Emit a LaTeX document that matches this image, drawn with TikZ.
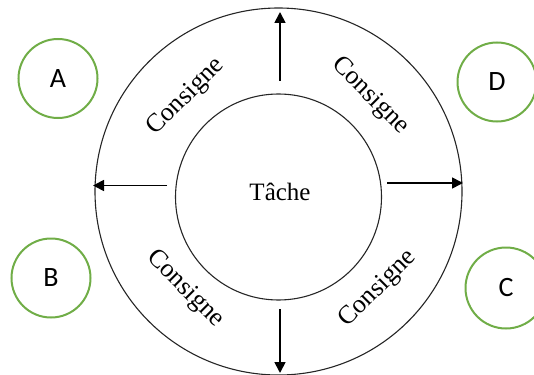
\documentclass[tikz,border=0pt]{standalone}
\usepackage{fontspec}
\setmainfont{Liberation Serif}
\newfontfamily\letterfont{Carlito}
\usetikzlibrary{arrows.meta}
\definecolor{ogreen}{RGB}{112,173,71}
\begin{document}
\begin{tikzpicture}[x=1pt,y=-1pt,
  ring/.style={circle,draw=black!85,line width=1.1pt,inner sep=0pt},
  letternode/.style={circle,draw=ogreen,line width=2pt,minimum size=79pt,inner sep=0pt,font=\letterfont\fontsize{28}{28}\selectfont},
  consigne/.style={font=\fontsize{26}{26}\selectfont,inner sep=0pt},
  arr/.style={line width=1.7pt,-{Triangle[length=11pt,width=11pt]}}]
\useasboundingbox (0,0) rectangle (534,374);
\node[ring,minimum size=367pt] (outer) at (278.5,191.5) {};
\node[ring,minimum size=206pt] (inner) at (278.5,197) {};
\node[font=\fontsize{25}{25}\selectfont] (tache) at (280,192) {Tâche};
\node[consigne,rotate=45] (c1) at (186,97) {Consigne};
\node[consigne,rotate=-45] (c2) at (370,96) {Consigne};
\node[consigne,rotate=-45] (c3) at (185,289) {Consigne};
\node[consigne,rotate=45] (c4) at (378,289) {Consigne};
\coordinate (t0) at (280,81); \coordinate (t1) at (280,12);
\coordinate (l0) at (167,185.5); \coordinate (l1) at (93,185.5);
\coordinate (r0) at (387,183); \coordinate (r1) at (463,183);
\coordinate (b0) at (280,309); \coordinate (b1) at (280,373);
\draw[arr] (t0) -- (t1);
\draw[arr] (l0) -- (l1);
\draw[arr] (r0) -- (r1);
\draw[arr] (b0) -- (b1);
\node[letternode] (A) at (58,78.5) {A};
\node[letternode] (B) at (51,278) {B};
\node[letternode] (D) at (497,82) {D};
\node[letternode,minimum size=81pt] (C) at (506,288) {C};
\end{tikzpicture}
\end{document}
